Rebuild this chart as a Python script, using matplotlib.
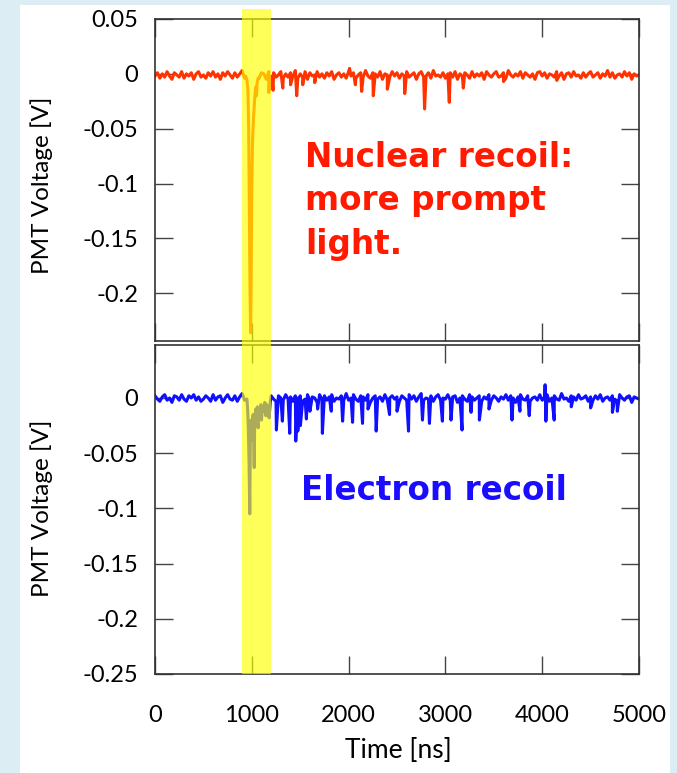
import numpy as np
import matplotlib
matplotlib.use("Agg")
import matplotlib.pyplot as plt
from matplotlib.patches import Rectangle
from matplotlib import transforms

plt.rcParams['font.family'] = ['Lato', 'DejaVu Sans']

# baseline samples every 25 ns (values in mV)
t_step = 25
nr_noise_mv = [
    -1, 2, -3, 1, -2, 3, -1, -4, 2, 0, -2, 3, -3, 1, -1, 2, -4, 1, 3, -2,
    0, -3, 2, -1, 3, -2, 1, -4, 2, -1, 3, 0, -3, 2, -2, 1, 4, -3, 0, 2,
    -2, 3, -1, -3, 2, 1, -4, 3, -1, 2, -2, 0, 3, -3, 1, -2, 2, -1, 4, -3,
    1, -2, 3, -4, 2, -1, 0, 3, -2, 1, -3, 2, -1, 3, -4, 0, 2, -2, 1, -3,
    3, -1, 2, -3, 0, 2, -2, 4, -1, -3, 2, 1, -2, 3, -4, 1, 0, -2, 3, -1,
    2, -3, 1, -1, 3, -2, 0, 2, -4, 1, 3, -2, -1, 2, -3, 4, -1, 0, -2, 2,
    -3, 1, 2, -2, 3, -4, 1, -1, 2, 0, -3, 3, -2, 1, -1, 2, -4, 3, 0, -2,
    1, 3, -2, -1, 2, -3, 4, 0, -2, 1, -1, 3, -3, 2, 0, -2, 1, -4, 2, 3,
    -1, 2, -3, 1, 0, -2, 3, -1, 2, -4, 1, 2, -2, 3, -1, 0, -3, 2, -2, 1,
    3, -2, 0, 2, -3, 1, -1, 4, -2, 2, -3, 0, 1, -2, 3, -1, 2, -4, 1, -1,
    0]
er_noise_mv = [
    2, -1, -3, 1, 3, -2, 0, -4, 2, 1, -2, 3, -1, -3, 2, 0, 3, -2, 1, -3,
    -1, 2, 0, -3, 3, -2, 1, 2, -4, 0, 3, -1, -2, 2, -3, 1, 4, -2, -1, 3,
    -3, 1, 2, -2, 0, 3, -4, 1, 2, -1, -3, 2, 0, -2, 3, -1, 1, -3, 2, 0,
    2, -3, -1, 3, -2, 1, 0, -4, 3, -1, 2, -2, 1, 3, -3, 0, -1, 2, -2, 4,
    -2, 0, 3, -1, -3, 2, 1, -2, 3, -4, 0, 2, -1, 1, -3, 3, -2, 0, 2, -1,
    1, -3, 2, 0, -2, 3, -1, 2, -3, 1, 4, -2, 0, -1, 2, -3, 1, 3, -2, 0,
    -1, 3, -2, 1, 2, -4, 0, 2, -1, -3, 3, 1, -2, 0, 2, -3, 1, -1, 3, -2,
    2, 0, -3, 1, -1, 3, -2, 2, 0, -4, 1, 3, -1, -2, 2, -3, 0, 1, -2, 3,
    -2, 1, 3, -3, 0, 2, -1, -2, 4, -1, 0, -3, 2, 1, -2, 3, -1, 0, 2, -3,
    1, -2, 2, -1, 3, -3, 0, 1, -2, 2, -1, -3, 3, 0, -2, 1, 2, -4, 1, 0,
    -1]
nr_offset = -0.001
er_offset = 0.0

# nuclear recoil: big prompt pulse
nr_pulse_t = [937, 950, 960, 968, 975, 982, 988, 994, 1000, 1008, 1018,
              1028, 1040, 1048, 1055, 1065]
nr_pulse_v = [-0.002, -0.006, -0.015, -0.05, -0.12, -0.20, -0.236, -0.18,
              -0.10, -0.06, -0.04, -0.025, -0.012, -0.02, -0.008, -0.004]
nr_spike_t = [1175, 1220, 1320, 1400, 1464, 1526, 1650, 2010, 2070, 2135,
              2255, 2400, 2580, 2785, 3040, 3185, 3600, 4150]
nr_spike_v = [-0.017, -0.015, -0.013, -0.010, -0.020, -0.010, -0.008,
              0.005, -0.010, -0.016, -0.020, -0.014, -0.018, -0.032, -0.026,
              -0.013, -0.007, -0.006]

# electron recoil: smaller pulse, long tail of single photons
er_pulse_t = [950, 958, 965, 972, 979, 985, 992, 1000, 1007, 1013, 1020,
              1025, 1030, 1040, 1050, 1058, 1065, 1075, 1085, 1095, 1100,
              1110, 1125, 1135, 1144, 1155, 1165, 1179, 1190]
er_pulse_v = [-0.001, -0.012, -0.03, -0.06, -0.105, -0.04, -0.02, -0.03,
              -0.038, -0.015, -0.035, -0.063, -0.02, -0.01, -0.018, -0.008,
              -0.027, -0.01, -0.015, -0.006, -0.02, -0.008, -0.012, -0.004,
              -0.016, -0.006, -0.01, -0.018, -0.004]
er_spike_t = [1254, 1316, 1392, 1454, 1475, 1502, 1564, 1600, 1680, 1729,
              1821, 1938, 2041, 2144, 2200, 2285, 2423, 2500, 2619, 2763,
              2835, 2969, 3058, 3172, 3265, 3351, 3450, 3688, 3770, 3866,
              4030, 4038, 4124, 4300, 4500, 4725, 4776]
er_spike_v = [-0.029, -0.021, -0.032, -0.039, -0.030, -0.025, -0.019,
              -0.012, -0.010, -0.032, -0.012, -0.021, -0.022, -0.023,
              -0.010, -0.030, -0.015, -0.012, -0.030, -0.020, -0.023,
              -0.021, -0.020, -0.029, -0.013, -0.020, -0.010, -0.020,
              -0.012, -0.016, 0.012, -0.021, -0.020, -0.008, -0.009,
              -0.013, -0.012]

band_start, band_end = 900, 1200


def build_trace(noise_mv, offset, pulse_t, pulse_v, spike_t, spike_v):
    t = np.arange(len(noise_mv)) * t_step
    v = offset + np.array(noise_mv) / 1000.0
    keep = (t < pulse_t[0]) | (t > pulse_t[-1])
    t_all = np.concatenate([t[keep], pulse_t, spike_t])
    v_all = np.concatenate([v[keep], pulse_v, spike_v])
    order = np.argsort(t_all, kind='stable')
    return t_all[order], v_all[order]


nr_t, nr_v = build_trace(nr_noise_mv, nr_offset, nr_pulse_t, nr_pulse_v,
                         nr_spike_t, nr_spike_v)
er_t, er_v = build_trace(er_noise_mv, er_offset, er_pulse_t, er_pulse_v,
                         er_spike_t, er_spike_v)

W, H = 677, 773
fig = plt.figure(figsize=(W / 100, H / 100), dpi=100, facecolor='#dcedf4')
fig.add_artist(Rectangle((20 / W, 0), 650 / W, 768 / H, transform=fig.transFigure,
                         facecolor='white', edgecolor='none', zorder=-1))

ax1 = fig.add_axes([155 / W, 1 - 341 / H, 484 / W, 322 / H])
ax2 = fig.add_axes([155 / W, 1 - 674 / H, 484 / W, 329 / H])

ax1.plot(nr_t, nr_v, color='#ff3300', lw=2.2)
ax2.plot(er_t, er_v, color='#1010ff', lw=2.2)

ax1.set_ylim(-0.2436, 0.05)
ax2.set_ylim(-0.25, 0.048)
ax1.set_yticks([0.05, 0, -0.05, -0.1, -0.15, -0.2])
ax1.set_yticklabels(['0.05', '0', '-0.05', '-0.1', '-0.15', '-0.2'])
ax2.set_yticks([0, -0.05, -0.1, -0.15, -0.2, -0.25])
ax2.set_yticklabels(['0', '-0.05', '-0.1', '-0.15', '-0.2', '-0.25'])

for ax in (ax1, ax2):
    ax.set_xlim(0, 5000)
    ax.set_xticks([0, 1000, 2000, 3000, 4000, 5000])
    ax.tick_params(direction='in', length=13, width=1, color='#444444',
                   top=True, right=True, labelsize=17, pad=12)
    for s in ax.spines.values():
        s.set_color('#333333')
        s.set_linewidth(1.2)
ax1.tick_params(labelbottom=False)
ax2.tick_params(axis='x', pad=22)

# yellow highlight over the prompt window, across both panels
blend = transforms.blended_transform_factory(ax2.transData, fig.transFigure)
fig.add_artist(Rectangle((band_start, 1 - 674 / H), band_end - band_start,
                         665 / H, transform=blend, facecolor='#ffff00',
                         edgecolor='none', alpha=0.65, zorder=5))

fig.text(42 / W, 1 - 185 / H, 'PMT Voltage [V]', rotation=90, ha='center',
         va='center', fontsize=17.5)
fig.text(42 / W, 1 - 508 / H, 'PMT Voltage [V]', rotation=90, ha='center',
         va='center', fontsize=17.5)
fig.text(398 / W, 1 - 751 / H, 'Time [ns]', ha='center', va='center',
         fontsize=19)

fig.text(305 / W, 1 - 141 / H, 'Nuclear recoil:\nmore prompt\nlight.',
         ha='left', va='top', fontsize=23.5, fontweight='bold',
         family='DejaVu Sans', color='#ff1a00', linespacing=1.4)
fig.text(301 / W, 1 - 500 / H, 'Electron recoil', ha='left', va='baseline',
         fontsize=23.5, fontweight='bold', family='DejaVu Sans', color='#1a0dff')

fig.savefig('out.png', dpi=100, facecolor=fig.get_facecolor())
